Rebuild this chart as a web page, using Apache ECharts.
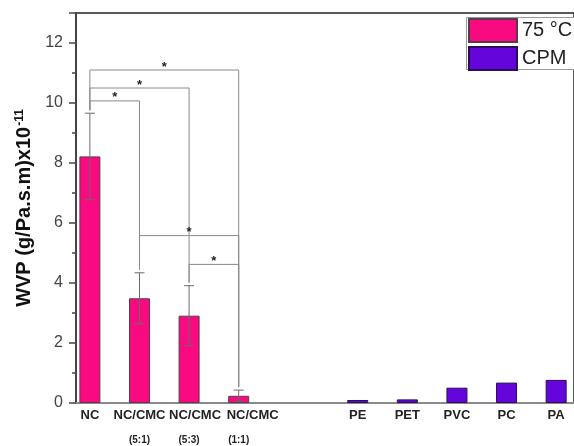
<!DOCTYPE html>
<html>
<head>
<meta charset="utf-8">
<script src="https://cdn.jsdelivr.net/npm/echarts@6/dist/echarts.min.js"></script>
<style>
  html, body { margin: 0; padding: 0; background: #fff; }
  #main { width: 574px; height: 446px; }
</style>
</head>
<body>
<div id="main"></div>
<script>
// categories and where they sit on the x axis (axis units)
var catNames = ['NC', 'NC/CMC', 'NC/CMC', 'NC/CMC', 'PE', 'PET', 'PVC', 'PC', 'PA'];
var catSub = ['', '(5:1)', '(5:3)', '(1:1)', '', '', '', '', ''];
var xPos = [1, 2, 3, 4, 6.4, 7.4, 8.4, 9.4, 10.4];

// WVP values, x10^-11 g/Pa.s.m
var wvp75 = [8.22, 3.49, 2.91, 0.24];
var wvp75Err = [1.44, 0.85, 1.0, 0.19];
var wvpCPM = [0.1, 0.12, 0.51, 0.68, 0.77];

// significance brackets: [from index, to index, height]
var brackets = [[0, 1, 10.07], [0, 2, 10.5], [0, 3, 11.1], [1, 3, 5.58], [2, 3, 4.62]];

var pink = '#fa0a80';
var purple = '#6405dc';

// the top line of the NC/CMC labels drifts right in the original (px)
var labelNudge = { 2: 6, 3: 14 };

function labelFor(v) {
    // find the category sitting at this tick value
    var best = 0;
    for (var i = 0; i < xPos.length; i++) {
        if (Math.abs(xPos[i] - v) < Math.abs(xPos[best] - v)) best = i;
    }
    var key = labelNudge[best] ? 'a' + labelNudge[best] : 'a';
    return '{' + key + '|' + catNames[best] + '}\n{b|' + (catSub[best] || ' ') + '}';
}

var labelRich = {
    a: { fontSize: 13, fontWeight: 'bold', color: '#222', lineHeight: 16 },
    b: { fontSize: 10, fontWeight: 'bold', color: '#222', lineHeight: 34 }
};
Object.keys(labelNudge).forEach(k => {
    labelRich['a' + labelNudge[k]] = Object.assign({}, labelRich.a, { padding: [0, 0, 0, 2 * labelNudge[k]] });
});

var data75 = wvp75.map((v, i) => [xPos[i], v]);
var dataCPM = wvpCPM.map((v, i) => [xPos[i + 4], v]);
var errData = wvp75.map((v, i) => [xPos[i], v, wvp75Err[i]]);
var bracketData = brackets.map(b => [
    xPos[b[0]], xPos[b[1]], b[2],
    wvp75[b[0]] + wvp75Err[b[0]] + 0.1,
    wvp75[b[1]] + wvp75Err[b[1]] + 0.1
]);

function renderErr(params, api) {
    var x = api.value(0), m = api.value(1), e = api.value(2);
    var top = api.coord([x, m + e]);
    var bot = api.coord([x, m - e]);
    var cap = 5;
    var st = { stroke: '#6a6a6a', lineWidth: 1 };
    return {
        type: 'group',
        children: [
            { type: 'line', shape: { x1: top[0], y1: top[1], x2: bot[0], y2: bot[1] }, style: st },
            { type: 'line', shape: { x1: top[0] - cap, y1: top[1], x2: top[0] + cap, y2: top[1] }, style: st },
            { type: 'line', shape: { x1: bot[0] - cap, y1: bot[1], x2: bot[0] + cap, y2: bot[1] }, style: st }
        ]
    };
}

function renderBracket(params, api) {
    var x1 = api.value(0), x2 = api.value(1), y = api.value(2);
    var a = api.coord([x1, api.value(3)]);
    var b = api.coord([x1, y]);
    var c = api.coord([x2, y]);
    var d = api.coord([x2, api.value(4)]);
    return {
        type: 'group',
        children: [
            {
                type: 'polyline',
                shape: { points: [a, b, c, d] },
                style: { stroke: '#8a8a8a', lineWidth: 1, fill: null }
            },
            {
                type: 'text',
                x: (b[0] + c[0]) / 2,
                y: b[1] - 3,
                style: {
                    text: '*', fill: '#222', font: 'bold 13px "Liberation Sans"',
                    align: 'center', verticalAlign: 'middle'
                }
            }
        ]
    };
}

var chartDom = document.getElementById('main');
var myChart = echarts.init(chartDom);
var option = {
    animation: false,
    textStyle: { fontFamily: '"Liberation Sans", Arial, sans-serif' },
    grid: {
        left: 76, right: -10, top: 13, bottom: 43,
        show: true, borderColor: '#222', borderWidth: 1.5
    },
    // legend frame runs off the right edge like in the original
    graphic: [{
        type: 'rect',
        left: 466, top: 17,
        shape: { width: 140, height: 52 },
        style: { fill: '#fff', stroke: '#999', lineWidth: 1 },
        z: 90
    }],
    legend: {
        data: ['75 °C', 'CPM'],
        orient: 'vertical',
        left: 466, top: 17,
        itemWidth: 48, itemHeight: 23, itemGap: 3,
        padding: [1, 2, 1, 2],
        icon: 'rect',
        z: 100,
        textStyle: { fontSize: 20, color: '#222' }
    },
    xAxis: {
        type: 'value',
        min: 0.72, max: 10.76,
        splitLine: { show: false },
        axisLine: { show: true, lineStyle: { color: '#8a8a8a', width: 2 } },
        axisTick: { show: false },
        axisLabel: {
            customValues: xPos,
            formatter: labelFor,
            margin: 4,
            rich: labelRich
        }
    },
    yAxis: {
        type: 'value',
        min: 0, max: 13, interval: 2,
        name: '{a|WVP (g/Pa.s.m)x10}{s|-11}',
        nameLocation: 'middle',
        nameGap: 40,
        nameTextStyle: {
            rich: {
                a: { fontSize: 20, fontWeight: 'bold', color: '#111' },
                s: { fontSize: 12, fontWeight: 'bold', color: '#111', verticalAlign: 'top', padding: [0, 0, 9, 1] }
            }
        },
        splitLine: { show: false },
        axisLine: { show: true, lineStyle: { color: '#444', width: 2 } },
        axisTick: { show: true, length: 7, lineStyle: { color: '#444', width: 1.5 } },
        minorTick: { show: true, splitNumber: 2, length: 4, lineStyle: { color: '#444', width: 1.5 } },
        axisLabel: { fontSize: 16, color: '#444', margin: 13, showMaxLabel: false }
    },
    series: [
        {
            name: '75 °C',
            type: 'bar',
            barWidth: 21,
            barGap: '-100%',
            data: data75,
            itemStyle: { color: pink, borderColor: '#5a3a48', borderWidth: 1 }
        },
        {
            name: 'CPM',
            type: 'bar',
            barWidth: 21,
            barGap: '-100%',
            data: dataCPM,
            itemStyle: { color: purple, borderColor: '#2a1050', borderWidth: 1 }
        },
        {
            type: 'custom',
            renderItem: renderErr,
            data: errData,
            encode: { x: 0, y: 1 },
            z: 5
        },
        {
            type: 'custom',
            renderItem: renderBracket,
            data: bracketData,
            encode: { x: [0, 1], y: 2 },
            z: 4
        }
    ]
};

myChart.setOption(option);
</script>
</body>
</html>
